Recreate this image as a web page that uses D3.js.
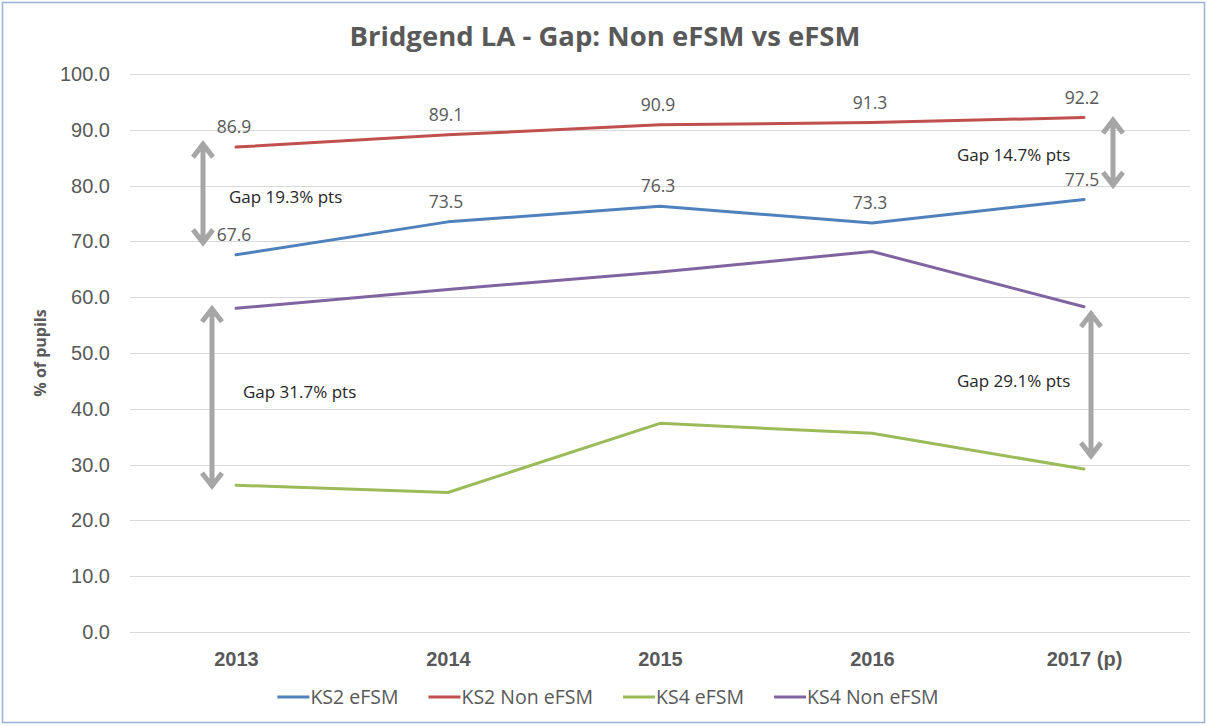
<!DOCTYPE html>
<html>
<head>
<meta charset="utf-8">
<script src="https://cdn.jsdelivr.net/npm/d3@7"></script>
<style>
  body { margin: 0; background: #fff; }
  svg { display: block; font-family: 'Open Sans', 'Liberation Sans', sans-serif; }
  .grid line { stroke: #d9d9d9; stroke-width: 1; }
  .tick-label { fill: #595959; }
  .series { fill: none; stroke-width: 3; stroke-linejoin: round; stroke-linecap: round; }
  .gap-arrow { fill: none; stroke: #a6a6a6; stroke-width: 5; }
</style>
</head>
<body>
<div id="chart"></div>
<script>
`use strict`;

const years = ['2013', '2014', '2015', '2016', '2017 (p)'];
const ks2eFSM = [67.6, 73.5, 76.3, 73.3, 77.5];
const ks2NonEFSM = [86.9, 89.1, 90.9, 91.3, 92.2];
const ks4eFSM = [26.3, 25.0, 37.4, 35.6, 29.2];
const ks4NonEFSM = [58.0, 61.4, 64.5, 68.2, 58.3];
const yTicks = [0, 10, 20, 30, 40, 50, 60, 70, 80, 90, 100];

const seriesNames = ['KS2 eFSM', 'KS2 Non eFSM', 'KS4 eFSM', 'KS4 Non eFSM'];
const seriesColors = ['#4f81bd', '#c0504d', '#9bbb59', '#8064a2'];

// gap annotations: text, year it sits by, arrow top / bottom value, label value
const gapText = ['Gap 19.3% pts', 'Gap 31.7% pts', 'Gap 14.7% pts', 'Gap 29.1% pts'];
const gapYear = ['2013', '2013', '2017 (p)', '2017 (p)'];
const gapTop = [87.6, 58.1, 91.9, 57.2];
const gapBottom = [69.6, 26.0, 79.9, 31.4];
const gapLabelValue = [78.0, 43.0, 85.5, 45.0];

let w = 1207, h = 726;
let plot = {left: 130, right: 1190, top: 74, bottom: 632};

let svg = d3.select('#chart').append('svg')
    .attr('width', w).attr('height', h);

// outer frame
svg.append('rect')
    .attr('x', 2.5).attr('y', 2.5).attr('width', w - 5).attr('height', h - 6)
    .attr('fill', '#fff').attr('stroke', '#95b3d7').attr('stroke-width', 1.5);

let x = d3.scalePoint().domain(years).range([plot.left, plot.right]).padding(0.5);
let y = d3.scaleLinear().domain([0, 100]).range([plot.bottom, plot.top]);

//horizontal gridlines
svg.append('g').classed('grid', true)
    .selectAll('line').data(yTicks).join('line')
    .attr('x1', plot.left).attr('x2', plot.right)
    .attr('y1', (d) => Math.round(y(d)) + 0.5).attr('y2', (d) => Math.round(y(d)) + 0.5);

//y axis labels
let yAxis = d3.axisLeft(y).tickValues(yTicks).tickFormat(d3.format('.1f')).tickSize(0).tickPadding(20);
let yG = svg.append('g').attr('transform', `translate(${plot.left},0)`).call(yAxis);
yG.select('.domain').remove();
yG.selectAll('text').classed('tick-label', true)
    .attr('font-size', 20).attr('font-family', null);

//x axis labels
let xAxis = d3.axisBottom(x).tickSize(0).tickPadding(20);
let xG = svg.append('g').attr('transform', `translate(0,${plot.bottom})`).call(xAxis);
xG.select('.domain').remove();
xG.selectAll('text').classed('tick-label', true)
    .attr('font-size', 20).attr('font-weight', 'bold').attr('font-family', null);

//title
svg.append('text')
    .attr('x', 605).attr('y', 46).attr('text-anchor', 'middle')
    .attr('font-size', 27.5).attr('font-weight', 'bold').attr('fill', '#595959')
    .text('Bridgend LA - Gap: Non eFSM vs eFSM');

//y axis title
svg.append('text')
    .attr('transform', `translate(46,${(plot.top + plot.bottom) / 2}) rotate(-90)`)
    .attr('text-anchor', 'middle')
    .attr('font-size', 16).attr('font-weight', 'bold').attr('fill', '#595959')
    .text('% of pupils');

let line = d3.line()
    .x((d, i) => x(years[i])).y((d) => y(d));

let allSeries = [ks2eFSM, ks2NonEFSM, ks4eFSM, ks4NonEFSM];
// draw in the stacking order of the reference
let drawOrder = [2, 3, 0, 1];
for (let s of drawOrder) {
    svg.append('path').datum(allSeries[s])
        .classed('series', true)
        .attr('stroke', seriesColors[s])
        .attr('d', line);
}

//data labels on the KS2 series only
for (let s of [0, 1]) {
    svg.append('g').selectAll('text').data(allSeries[s]).join('text')
        .attr('x', (d, i) => x(years[i]) - 2)
        .attr('y', (d) => y(d) - 14)
        .attr('text-anchor', 'middle')
        .attr('font-size', 17.5).attr('fill', '#595959')
        .text((d) => d.toFixed(1));
}

//gap arrows and notes
let arrowDx = [-33, -24, 29, 7];
let labelX = [229, 243, 957, 957];
let head = {half: 10, len: 14};
gapText.forEach((t, i) => {
    let ax = x(gapYear[i]) + arrowDx[i];
    let y0 = y(gapTop[i]), y1 = y(gapBottom[i]);
    let d = `M${ax},${y0 + 2}L${ax},${y1 - 2}`
        + `M${ax - head.half},${y0 + head.len}L${ax},${y0 + 1}L${ax + head.half},${y0 + head.len}`
        + `M${ax - head.half},${y1 - head.len}L${ax},${y1 - 1}L${ax + head.half},${y1 - head.len}`;
    svg.append('path').classed('gap-arrow', true).attr('d', d);

    svg.append('text')
        .attr('x', labelX[i]).attr('y', y(gapLabelValue[i]) + 6)
        .attr('font-size', 17).attr('fill', '#262626')
        .text(t);
});

//legend
let legend = svg.append('g');
let lx = 0;
seriesNames.forEach((name, i) => {
    let item = legend.append('g').attr('transform', `translate(${lx},0)`);
    item.append('line')
        .attr('x1', 0).attr('x2', 32).attr('y1', 0).attr('y2', 0)
        .attr('stroke', seriesColors[i]).attr('stroke-width', 3);
    let label = item.append('text')
        .attr('x', 33).attr('y', 7)
        .attr('font-size', 19.5).attr('fill', '#595959')
        .text(name);
    lx += 33 + label.node().getComputedTextLength() + 30;
});
lx -= 30;
legend.attr('transform', `translate(${608 - lx / 2},697)`);
</script>
</body>
</html>
